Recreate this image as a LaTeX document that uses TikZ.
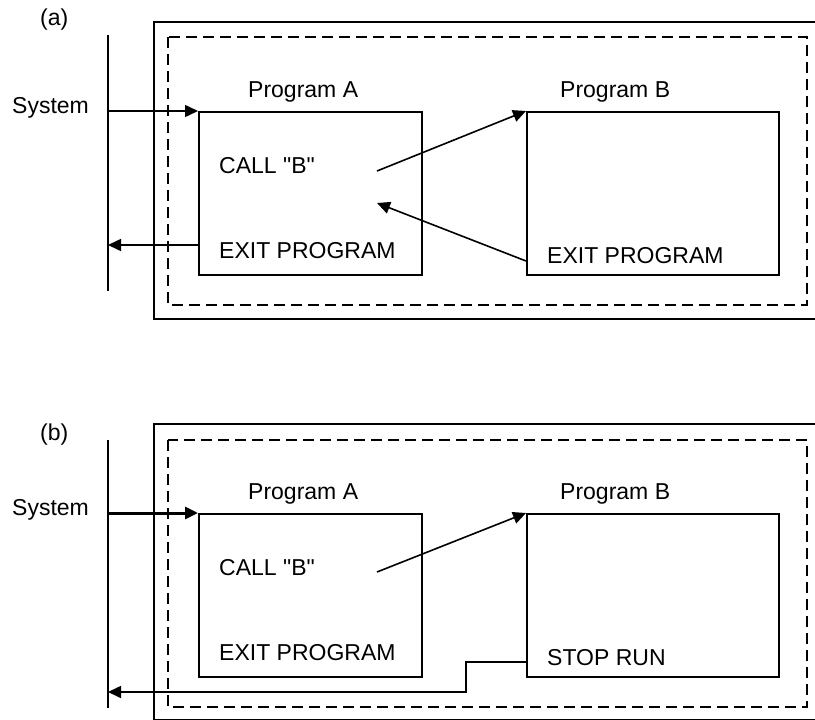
\documentclass[tikz,border=0pt]{standalone}
\usepackage{fontspec}
\setmainfont{Liberation Sans}[Ligatures=TeXOff]
\usetikzlibrary{arrows.meta}
\begin{document}
\begin{tikzpicture}[x=1pt,y=-1pt,
  ln/.style={line width=1.6pt},
  prog/.style={draw,line width=1.6pt,minimum width=223pt,minimum height=163pt,inner sep=0pt,anchor=north west},
  progb/.style={draw,line width=1.6pt,minimum width=252pt,minimum height=163pt,inner sep=0pt,anchor=north west},
  dbox/.style={line width=1.4pt,dash pattern=on 11pt off 6pt},
  arr/.style={line width=1.6pt,-{Triangle[length=13pt,width=12pt]}},
  txt/.style={anchor=base west,inner sep=0pt,font=\fontsize{23}{27}\selectfont}]
\useasboundingbox (0,0) rectangle (815,720);
\fill[white] (0,0) rectangle (815,720);
\clip (0,0) rectangle (815,720);

% ---------- (a) ----------
\node[txt] (la) at (40,26) {(a)};
\draw[ln] (154,22) rectangle (830,319);
\draw[dbox] (168,37) rectangle (807,305);
\coordinate (s1top) at (108,35);
\coordinate (s1bot) at (108,291);
\draw[ln] (s1top) -- (s1bot);
\node[txt] (sysa) at (12,113) {System};
\node[prog] (A1) at (198,111) {};
\node[progb] (B1) at (526,111) {};
\node[txt] (pa1) at (248,97) {Program A};
\node[txt] (pb1) at (560,97) {Program B};
\node[txt] (ca1) at (219,173) {CALL "B"};
\node[txt] (ea1) at (219,258) {EXIT PROGRAM};
\node[txt] (eb1) at (547,263) {EXIT PROGRAM};
\draw[arr] (A1.north west -| s1top) -- (A1.north west);
\coordinate (rA1) at (198,245);
\draw[arr] (rA1) -- (rA1 -| s1top);
\coordinate (cA1) at (377,171);
\draw[arr] (cA1) -- (B1.north west);
\coordinate (rB1) at (526,261);
\coordinate (rT1) at (377,203);
\draw[arr] (rB1) -- (rT1);

% ---------- (b) ----------
\node[txt] (lb) at (40,440) {(b)};
\draw[ln] (154,424) rectangle (830,720);
\draw[dbox] (168,440) rectangle (807,707);
\coordinate (s2top) at (108,440);
\coordinate (s2bot) at (108,708);
\draw[ln] (s2top) -- (s2bot);
\node[txt] (sysb) at (12,515) {System};
\node[prog] (A2) at (198,513) {};
\node[progb] (B2) at (526,513) {};
\node[txt] (pa2) at (248,499) {Program A};
\node[txt] (pb2) at (560,499) {Program B};
\node[txt] (ca2) at (219,575) {CALL "B"};
\node[txt] (ea2) at (219,660) {EXIT PROGRAM};
\node[txt] (sr2) at (547,665) {STOP RUN};
\draw[arr,line width=3pt] (A2.north west -| s2top) -- (A2.north west);
\coordinate (cA2) at (377,572);
\draw[arr] (cA2) -- (B2.north west);
\coordinate (rB2) at (526,662);
\coordinate (kk) at (466,692);
\draw[arr] (rB2) -| (kk) -- (kk -| s2top);
\end{tikzpicture}
\end{document}
